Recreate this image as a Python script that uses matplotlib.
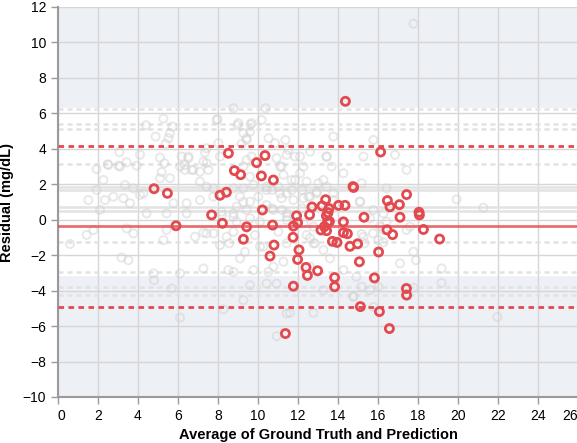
import numpy as np
import matplotlib
matplotlib.use("Agg")
import matplotlib.pyplot as plt

plt.rcParams['font.family'] = ['Liberation Sans', 'DejaVu Sans']

# highlighted model: mean of ground truth and prediction vs residual
red_x = [4.8, 5.47, 5.9, 7.68, 8.1, 8.42, 8.52, 8.82, 9.13, 9.93, 10.35, 10.17, 10.77,
         10.22, 8.22, 9.43, 9.27, 10.73, 10.8, 10.6, 11.37, 11.93, 11.98, 11.77, 11.75,
         12.05, 11.98, 12.4, 12.47, 12.98, 11.77, 12.58, 12.7, 13.2, 13.38, 13.55, 13.42,
         13.5, 13.48, 13.32, 13.15, 13.43, 13.72, 13.95, 14.03, 14.35, 14.27, 14.27, 14.47,
         14.6, 14.98, 15.07, 13.83, 13.83, 14.37, 16.13, 14.75, 14.78, 15.3, 16.47, 16.6,
         17.07, 17.43, 17.1, 18.05, 18.07, 16.45, 16.73, 18.27, 19.08, 16.03, 15.82, 17.42,
         17.43, 15.12, 16.07, 16.57, 13.57]
red_y = [1.75, 1.49, -0.34, 0.27, 1.38, 1.55, 3.75, 2.77, 2.54, 3.22, 3.62, 2.47, 2.24,
         0.55, -0.2, -0.4, -1.1, -0.3, -1.43, -2.05, -6.42, 0.22, -0.17, -0.36, -0.99,
         -1.7, -2.24, -2.69, -3.14, -2.88, -3.75, 0.28, 0.72, 0.78, 1.13, 0.63, 0.22,
         0.4, -0.13, -0.39, -0.58, -0.62, -1.22, -1.28, 0.81, 0.81, -0.12, -0.73, -0.79,
         -1.5, -1.36, -2.37, -3.26, -3.78, 6.68, 3.82, 1.87, 1.82, 0.14, 1.08, 0.73,
         0.85, 1.42, 0.14, 0.42, 0.27, -0.57, -0.84, -0.55, -1.09, -1.82, -3.28, -3.88,
         -4.25, -4.9, -5.18, -6.14, -0.1]
red_mean = -0.35
red_loa = [4.18, -4.91]

# other models, shown faded in the background
gray_x = [8.77, 10.38, 7.97, 10.18, 5.27, 4.4, 5.72, 8.98, 9.63, 4.88, 5.6, 5.52, 9.27,
          9.43, 10.53, 11.37, 5.38, 9.18, 3.07, 4.1, 7.35, 8.02, 6.18, 6.52, 9.68, 1.93,
          2.48, 3.03, 3.43, 3.93, 5.32, 5.18, 6.35, 6.77, 7.43, 7.1, 9.27, 9.6, 11.1,
          11.43, 2.27, 3.35, 3.77, 1.93, 1.52, 2.35, 2.77, 3.27, 3.6, 4.27, 5.77, 6.43,
          7.1, 7.1, 7.77, 9.1, 9.6, 9.77, 10.43, 11.1, 2.1, 4.43, 5.43, 6.43, 8.18, 8.77,
          10.77,
          0.6, 1.43, 1.77, 3.18, 3.52, 3.77, 3.43, 5.27, 5.43, 4.77, 4.8, 5.68, 6.1, 6.1,
          6.85, 7.27, 7.27, 7.77, 8.1, 8.27, 8.57, 8.52, 8.77, 9.1, 9.35, 9.27, 9.6, 9.77,
          10.27, 10.43, 10.93, 10.52, 10.93, 10.77, 11.27, 11.43,
          12.6, 12.85, 13.27, 12.6, 13.6, 14.27, 13.27, 12.77, 11.6, 14.77, 15.18, 15.6,
          16.02, 14.92, 15.33, 15.75, 17.1, 17.77, 17.9, 19.18, 19.18, 17.43, 16.43, 21.97,
          17.77, 13.77, 15.77, 12.6, 13.43, 15.27, 16.85, 17.43, 14.27, 13.27, 15.18,
          12.27, 11.85, 16.43, 19.93, 21.27, 11.85, 12.52, 13.77, 15.1, 15.77,
          16.27, 17.77, 14.77, 15.77, 15.18, 16.27,
          2.52, 3.1, 5.1, 4.1, 6.52, 6.1, 6.35, 6.68, 5.6, 5.1,
          7.93, 9.02, 9.68, 9.6, 9.43, 7.43, 8.1, 10.85, 11.52, 12.1, 13.43, 13.68, 10.93,
          11.18, 9.43, 7.52, 7.27, 11.27, 12.1, 11.68, 12.43, 13.02, 7.43, 8.77, 9.27, 10.7,
          11.02, 11.7, 12.2, 12.95, 13.43, 7.77, 10.02, 11.18, 11.77, 8.93, 9.43, 10.7,
          11.2, 8.2, 8.77, 11.45, 12.2,
          7.43, 8.43, 8.77, 9.85, 10.1, 11.02, 11.43, 12.43, 12.77, 11.45, 8.93, 9.6, 10.1,
          12.77, 12.27, 11.45, 10.43, 9.27, 12.27, 12.6, 12.93, 10.43, 11.43,
          15.6, 16.1, 17.6, 15.27, 16.02, 15.1, 16.27, 13.77]
gray_y = [6.29, 6.29, 5.67, 5.63, 5.7, 5.33, 5.25, 5.33, 5.37, 4.69, 4.88, 4.6, 4.88,
          4.6, 4.6, 4.5, 4.28, 4.28, 3.81, 3.67, 3.79, 4.32, 3.56, 3.56, 3.56, 2.86,
          3.13, 3.05, 3.24, 3.05, 3.19, 2.69, 3.09, 2.81, 3.19, 2.71, 3.0, 2.43, 3.0,
          3.66, 2.24, 1.96, 1.77, 1.68, 1.11, 1.11, 1.3, 1.21, 0.93, 1.49, 0.93, 0.93,
          1.11, 2.15, 1.77, 1.3, 1.02, 1.96, 1.86, 1.49, 0.55, 0.36, 0.36, 0.36, 0.45, 0.36,
          0.55,
          -1.37, -0.86, -0.58, -2.13, -2.28, -0.77, -0.49, -1.15, -0.58, -3.03, -3.41,
          -3.88, -3.03, -5.52, -0.96, -0.73, -2.75, -0.77, -1.43, -5.06, -1.33, -2.84,
          -2.94, -2.18, -1.81, -4.54, -3.69, -2.84, -1.52, -3.6, -3.6, -2.94, -6.57,
          -2.65, -2.37, -5.29,
          -1.05, -1.33, -1.71, -2.65, -2.18, -2.84, -3.97, -5.25, -5.25, -4.35, -3.78,
          -3.97, -3.78, -3.22, -1.33, -0.77, -2.46, -1.81, -2.28, -2.75, -3.56, -0.58,
          -0.11, -5.48,
          11.06, 4.69, 4.5, 3.84, 3.56, 3.56, 3.66, 2.81, 2.62, 2.24, 2.06,
          3.0, 3.56, 1.77, 1.15, 0.68, 2.24, 1.3, 1.11, 1.02, 0.55,
          -1.28, -3.84, -4.31, -4.92, -0.81, 0.36,
          3.09, 3.0, 2.34, 1.4, 3.47, 3.0, 2.81, 2.81, 2.34, 3.5,
          5.63, 5.45, 5.45, 4.97, 4.5, 4.03, 3.56, 4.32, 3.94, 3.56, 3.56, 3.0, 3.47,
          3.0, 3.37, 2.81, 3.28, 2.53, 2.62, 2.24, 2.15, 2.06, 1.86, 1.77, 1.77, 1.68,
          1.86, 1.68, 1.68, 1.58, 1.86, 1.3, 1.3, 1.21, 1.11, 0.74, 0.55, 0.64,
          0.55, 0.27, 0.17, 0.17, 0.64,
          -0.77, -0.96, -0.68, -0.86, -1.52, -0.68, -1.33, -0.86, -1.33, -0.02, -0.11,
          0.08, -0.11, -0.39, -0.2, 0.36, 0.83, 1.0, 1.21, 1.3, 1.49, 1.68, 1.49,
          0.08, -0.39, -0.39, -0.96, -1.15, 1.02, -0.58, 1.49]
gray_mean = [1.85, 1.65, 0.7, 0.5]
gray_loa = [6.24, 5.41, 5.14, 3.13, -1.24, -2.94, -3.8, -4.23]
band = (-3.12, 6.3)

red = '#e34a4f'
fig = plt.figure(figsize=(5.77, 4.43), dpi=100)
ax = fig.add_axes([58 / 577, 46 / 443, 520 / 577, 390 / 443])
ax.set_facecolor('#edf0f5')
ax.axhspan(band[0], band[1], color='white', zorder=0)

ax.set_xlim(0, 26)
ax.set_ylim(-10, 12)
ax.set_xticks(np.arange(0, 27, 2))
ax.set_yticks(np.arange(-10, 13, 2))
ax.grid(True, color='#d6d6d9', lw=1, zorder=0.5)
ax.set_axisbelow(True)

for v in gray_mean:
    ax.axhline(v, color='#e2e2e2', lw=1.8, zorder=1)
for v in gray_loa:
    ax.axhline(v, color='#e2e2e2', lw=1.8, ls=(0, (2, 1.6)), zorder=1)

ax.scatter(gray_x, gray_y, s=34, facecolors='none', edgecolors='#d2d2d2',
           linewidths=1.4, alpha=0.5, zorder=2)

ax.axhline(red_mean, color=red, lw=2, alpha=0.8, zorder=3)
for v in red_loa:
    ax.axhline(v, color=red, lw=2, ls=(0, (2, 1.6)), zorder=3)
ax.scatter(red_x, red_y, s=34, facecolors='none', edgecolors=red,
           linewidths=2, zorder=4)

for s in ['top', 'right']:
    ax.spines[s].set_visible(False)
for s in ['left', 'bottom']:
    ax.spines[s].set_color('#9a9a9a')
    ax.spines[s].set_linewidth(1.5)
ax.tick_params(colors='#9a9a9a', labelcolor='black', labelsize=10, length=5, width=1)

# first and last x labels sit flush with the axis ends
xlabels = ax.get_xticklabels()
xlabels[0].set_ha('left')
xlabels[-1].set_ha('right')

ax.set_xlabel('Average of Ground Truth and Prediction', fontsize=10.5,
              fontweight='bold', labelpad=4)
ax.set_ylabel('Residual (mg/dL)', fontsize=10.5, fontweight='bold', labelpad=6)

fig.savefig('out.png', dpi=100)
